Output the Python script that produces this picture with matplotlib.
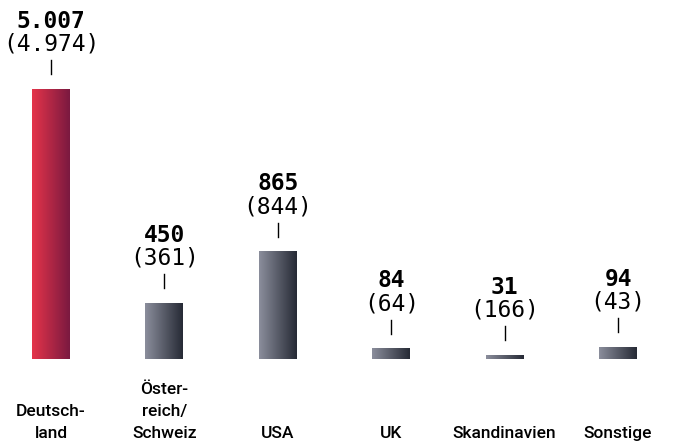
import numpy as np
import matplotlib
matplotlib.use("Agg")
import matplotlib.pyplot as plt
from matplotlib.colors import LinearSegmentedColormap
from matplotlib.transforms import blended_transform_factory

# Daten: aktueller Wert und Vorjahr (in Klammern)
categories = ["Deutsch-\nland", "Öster-\nreich/\nSchweiz", "USA", "UK", "Skandinavien", "Sonstige"]
values = [5007, 450, 865, 84, 31, 94]
prev_values = [4974, 361, 844, 64, 166, 43]
value_labels = ["5.007", "450", "865", "84", "31", "94"]
prev_labels = ["(4.974)", "(361)", "(844)", "(64)", "(166)", "(43)"]

# Deutschland-Balken wird optisch gekappt
cap = 2177

red_cmap = LinearSegmentedColormap.from_list("red", ["#e5344a", "#7a1940"])
grey_cmap = LinearSegmentedColormap.from_list("grey", ["#8b8e9c", "#262a35"])

fig = plt.figure(figsize=(6.74, 4.43), dpi=100)
ax = fig.add_axes([0, 84 / 443, 1, 359 / 443])
ax.set_xlim(-0.45, 5.493)
ax.set_ylim(0, 2895)
ax.axis("off")

width = 0.335
grad = np.linspace(0, 1, 256).reshape(1, -1)
for i, v in enumerate(values):
    h = min(v, cap)
    cmap = red_cmap if i == 0 else grey_cmap
    ax.imshow(grad, cmap=cmap, aspect="auto",
              extent=(i - width / 2, i + width / 2, 0, h), zorder=2)
    ax.annotate(prev_labels[i], xy=(i, h), xytext=(0, 45), textcoords="offset pixels",
                ha="center", va="center", fontsize=16.5, family="DejaVu Sans Mono",
                color="#000000")
    ax.annotate(value_labels[i], xy=(i, h), xytext=(0, 68), textcoords="offset pixels",
                ha="center", va="center", fontsize=16.5, family="DejaVu Sans Mono",
                fontweight="bold", color="#000000")
    # kleiner senkrechter Strich
    tr = ax.transData.transform((i, h))
    inv = ax.transData.inverted()
    y0 = inv.transform((tr[0], tr[1] + 15))[1]
    y1 = inv.transform((tr[0], tr[1] + 29))[1]
    ax.plot([i, i], [y0, y1], color="#000000", lw=1.0)

ax.set_ylim(0, 2895)
trans = blended_transform_factory(ax.transData, fig.transFigure)
for i, c in enumerate(categories):
    ax.text(i, 2 / 443, c, transform=trans, ha="center", va="bottom",
            fontsize=12.5, family="Roboto", fontweight="medium", color="#000000",
            linespacing=1.6, clip_on=False)

fig.savefig("out.png", dpi=100)
